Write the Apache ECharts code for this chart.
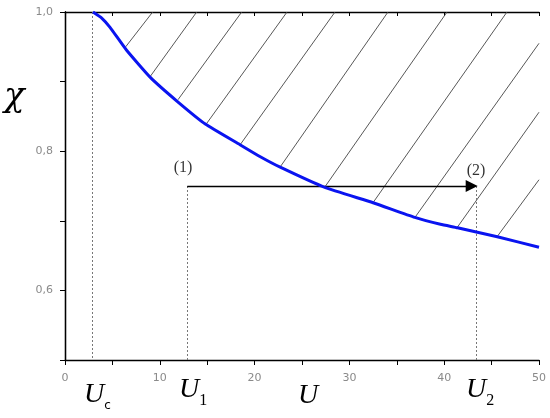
<!DOCTYPE html>
<html>
<head>
<meta charset="utf-8">
<script src="https://cdn.jsdelivr.net/npm/echarts@6/dist/echarts.min.js"></script>
<style>
html, body { margin: 0; padding: 0; background: #fff; }
#chart { width: 550px; height: 418px; }
</style>
</head>
<body>
<div id="chart"></div>
<script>
// boundary curve chi(U)
const curveU = [2.95, 3.9, 4.75, 6.5, 9.0, 11.8, 14.8, 18.5, 20.6, 22.7, 27.4, 32.5, 36.9, 39.6, 41.4, 45.6, 50]
const curveChi = [1.0, 0.991, 0.978, 0.945, 0.906, 0.872, 0.839, 0.809, 0.792, 0.777, 0.748, 0.726, 0.705, 0.695, 0.690, 0.677, 0.662]

// hatch strokes: lower end on the curve, upper end on the frame
const hatchLowU = [6.4, 8.97, 11.92, 14.95, 18.46, 22.68, 27.43, 32.49, 36.92, 41.35, 45.57]
const hatchLowChi = [0.950, 0.907, 0.874, 0.840, 0.809, 0.777, 0.749, 0.726, 0.705, 0.690, 0.677]
const hatchHighU = [9.25, 13.89, 18.64, 23.42, 28.48, 34.07, 40.3, 46.62, 50, 50, 50]
const hatchHighChi = [1.0, 1.0, 1.0, 1.0, 1.0, 1.0, 1.0, 1.0, 0.955, 0.856, 0.759]

// process (1) -> (2)
const stateU = [12.9, 43.4]
const arrowEndU = 42.9
const stateChi = 0.75
const stateNames = ['(1)', '(2)']
const stateLabelU = [12.45, 43.35]
const stateLabelChi = [0.776, 0.772]
const criticalU = 2.9

const chart = echarts.init(document.getElementById('chart'))

const tickLabel = { color: '#8a8a8a', fontSize: 11, fontFamily: 'DejaVu Sans' }
const frameLine = { show: true, lineStyle: { color: '#000', width: 1.3 } }
const bigU = 'italic 28px "Liberation Serif"'

const option = {
  animation: false,
  grid: { left: 65, right: 11, top: 12, bottom: 58 },
  xAxis: [
    {
      type: 'value', min: 0, max: 50, interval: 5,
      axisLine: frameLine,
      axisTick: { show: true, length: 5, lineStyle: { color: '#000' } },
      axisLabel: Object.assign({}, tickLabel, { margin: 13, formatter: v => (v % 10 === 0 ? String(v) : '') }),
      splitLine: { show: false }
    },
    {
      type: 'value', position: 'top', min: 0, max: 50, interval: 5,
      axisLine: frameLine,
      axisTick: { show: true, inside: true, length: 4, lineStyle: { color: '#000' } },
      axisLabel: { show: false },
      splitLine: { show: false }
    }
  ],
  yAxis: [
    {
      type: 'value', min: 0.5, max: 1.0, interval: 0.1,
      axisLine: frameLine,
      axisTick: { show: true, length: 5, lineStyle: { color: '#000' } },
      axisLabel: Object.assign({}, tickLabel, {
        margin: 12,
        formatter: v => (Math.round(v * 10) % 2 === 0 ? v.toFixed(1).replace('.', ',') : '')
      }),
      splitLine: { show: false }
    },
    {
      type: 'value', position: 'right', min: 0.5, max: 1.0, interval: 0.1,
      axisLine: frameLine,
      axisTick: { show: true, inside: true, length: 4, lineStyle: { color: '#000' } },
      axisLabel: { show: false },
      splitLine: { show: false }
    }
  ],
  series: [
    {
      name: 'hatch',
      type: 'lines',
      coordinateSystem: 'cartesian2d',
      silent: true,
      lineStyle: { color: '#444', width: 0.9, opacity: 1 },
      data: hatchLowU.map((u, i) => ({ coords: [[u, hatchLowChi[i]], [hatchHighU[i], hatchHighChi[i]]] }))
    },
    {
      name: 'dashed',
      type: 'lines',
      coordinateSystem: 'cartesian2d',
      silent: true,
      lineStyle: { color: '#777', width: 1, type: [2, 2], opacity: 1 },
      data: [
        { coords: [[criticalU, 1.0], [criticalU, 0.5]] },
        { coords: [[stateU[0], stateChi], [stateU[0], 0.5]] },
        { coords: [[stateU[1], stateChi], [stateU[1], 0.5]] }
      ]
    },
    {
      name: 'curve',
      type: 'line',
      smooth: 0.15,
      showSymbol: false,
      lineStyle: { color: '#0a14f0', width: 3 },
      data: curveU.map((u, i) => [u, curveChi[i]])
    },
    {
      name: 'arrow',
      type: 'lines',
      coordinateSystem: 'cartesian2d',
      silent: true,
      symbol: ['none', 'triangle'],
      symbolSize: [7, 12],
      lineStyle: { color: '#000', width: 1.4, opacity: 1 },
      data: [{ coords: [[stateU[0], stateChi], [arrowEndU, stateChi]] }]
    },
    {
      name: 'states',
      type: 'scatter',
      symbolSize: 0,
      silent: true,
      label: {
        show: true, position: 'inside', color: '#000',
        fontFamily: 'Liberation Serif', fontSize: 16,
        formatter: p => stateNames[p.dataIndex]
      },
      data: stateLabelU.map((u, i) => [u, stateLabelChi[i]])
    }
  ],
  graphic: [
    { type: 'text', x: 4, y: 80, style: { text: 'χ', font: 'italic 34px "DejaVu Serif"', fill: '#000' } },
    {
      type: 'text', x: 84, y: 378,
      style: {
        text: '{u|U}{s|c}',
        rich: {
          u: { font: bigU, fill: '#000' },
          s: { font: '12px "DejaVu Sans"', fill: '#000', padding: [22, 0, 0, 0] }
        }
      }
    },
    {
      type: 'text', x: 179, y: 371,
      style: {
        text: '{u|U}{s|1}',
        rich: {
          u: { font: bigU, fill: '#000' },
          s: { font: '16px "Liberation Serif"', fill: '#000', padding: [22, 0, 0, 0] }
        }
      }
    },
    { type: 'text', x: 298, y: 382, style: { text: 'U', font: bigU, fill: '#000' } },
    {
      type: 'text', x: 466, y: 371,
      style: {
        text: '{u|U}{s|2}',
        rich: {
          u: { font: bigU, fill: '#000' },
          s: { font: '16px "Liberation Serif"', fill: '#000', padding: [22, 0, 0, 0] }
        }
      }
    }
  ]
}

chart.setOption(option)
</script>
</body>
</html>
